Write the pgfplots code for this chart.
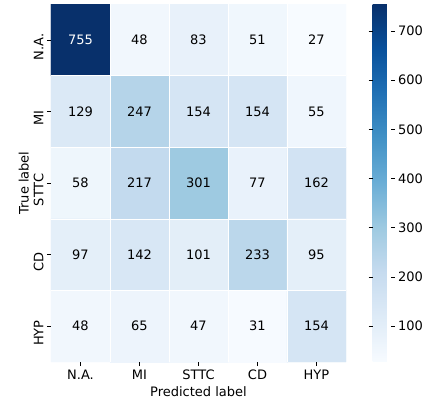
\documentclass[border=0pt]{standalone}
\usepackage{fontspec}
\setmainfont{DejaVu Sans}
\usepackage{pgfplots}
\pgfplotsset{compat=1.18}
\pgfplotsset{colormap={blues}{rgb255=(247,251,255) rgb255=(222,235,247) rgb255=(198,219,239) rgb255=(158,202,225) rgb255=(107,174,214) rgb255=(66,146,198) rgb255=(33,113,181) rgb255=(8,81,156) rgb255=(8,48,107)}}
\newcommand{\fs}{\fontsize{13}{15}\selectfont}
\begin{document}
\begin{tikzpicture}
\begin{axis}[
  scale only axis, width=295pt, height=358pt,
  xmin=-0.5, xmax=4.5, ymin=-0.5, ymax=4.5, y dir=reverse,
  colormap name=blues, point meta min=27, point meta max=755,
  axis line style={draw=none},
  xtick={0,1,2,3,4}, xticklabels={N.A.,MI,STTC,CD,HYP},
  ytick={0,1,2,3,4}, yticklabels={N.A.,MI,STTC,CD,HYP},
  yticklabel style={rotate=90, anchor=south, xshift=-7pt},
  tick align=outside, major tick length=4pt, tick style={black, line width=0.6pt},
  xtick pos=bottom, ytick pos=left,
  ticklabel style={font=\fs},
  /pgf/number format/assume math mode=true,
  xlabel={Predicted label}, ylabel={True label},
  label style={font=\fs},
  xlabel style={yshift=0pt}, ylabel style={yshift=-2pt},
  minor xtick={0.5,1.5,2.5,3.5}, minor ytick={0.5,1.5,2.5,3.5},
  minor tick length=0pt, xminorgrids, yminorgrids,
  minor grid style={white, line width=0.3pt},
  axis on top,
  colorbar right,
  colorbar style={
    at={(parent axis.north east)}, anchor=north west, xshift=18pt,
    width=18pt,
    ytick={100,200,300,400,500,600,700},
    axis line style={draw=none},
    tick align=outside, major tick length=4pt, tick style={black, line width=0.6pt},
    yticklabel style={font=\fs, /pgf/number format/assume math mode=true},
  },
]
\addplot[matrix plot*, mesh/cols=5, point meta=explicit] table[meta=C] {
x y C
0 0 755
1 0 48
2 0 83
3 0 51
4 0 27
0 1 129
1 1 247
2 1 154
3 1 154
4 1 55
0 2 58
1 2 217
2 2 301
3 2 77
4 2 162
0 3 97
1 3 142
2 3 101
3 3 233
4 3 95
0 4 48
1 4 65
2 4 47
3 4 31
4 4 154
};
\addplot[draw=none, mark=none, nodes near coords, point meta=explicit symbolic,
  nodes near coords align=center, every node near coord/.style={font=\fs, text=white, anchor=center}]
  table[meta=C] {
x y C
0 0 755
};
\addplot[draw=none, mark=none, nodes near coords, point meta=explicit symbolic,
  nodes near coords align=center, every node near coord/.style={font=\fs, text=black, anchor=center}]
  table[meta=C] {
x y C
1 0 48
2 0 83
3 0 51
4 0 27
0 1 129
1 1 247
2 1 154
3 1 154
4 1 55
0 2 58
1 2 217
2 2 301
3 2 77
4 2 162
0 3 97
1 3 142
2 3 101
3 3 233
4 3 95
0 4 48
1 4 65
2 4 47
3 4 31
4 4 154
};
\end{axis}
\pgfresetboundingbox
\path[use as bounding box] ([shift={(-51pt,-52pt)}]current axis.south west) rectangle ([shift={(80pt,4pt)}]current axis.north east);
\end{tikzpicture}
\end{document}
